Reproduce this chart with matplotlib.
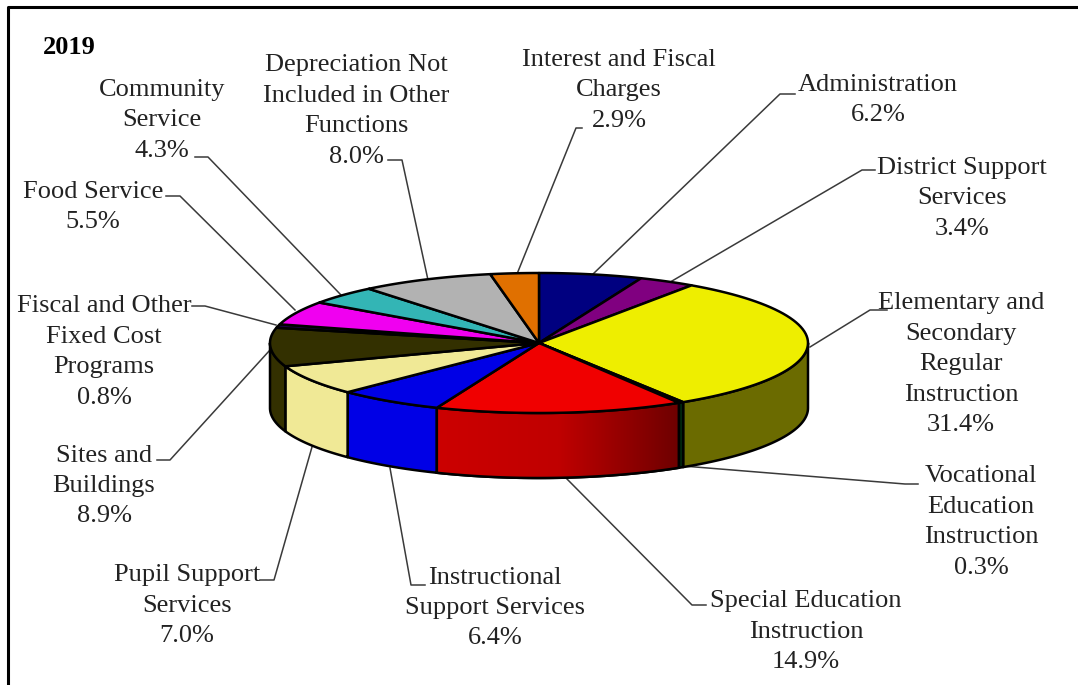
import numpy as np
import matplotlib
matplotlib.use('Agg')
import matplotlib.pyplot as plt
from matplotlib.patches import Polygon

plt.rcParams['font.family'] = ['Liberation Serif', 'DejaVu Serif']

names = ['Administration', 'District Support\nServices',
         'Elementary and\nSecondary\nRegular\nInstruction',
         'Vocational\nEducation\nInstruction',
         'Special Education\nInstruction', 'Instructional\nSupport Services',
         'Pupil Support\nServices', 'Sites and\nBuildings',
         'Fiscal and Other\nFixed Cost\nPrograms', 'Food Service',
         'Community\nService', 'Depreciation Not\nIncluded in Other\nFunctions',
         'Interest and Fiscal\nCharges']
shares = [6.2, 3.4, 31.4, 0.3, 14.9, 6.4, 7.0, 8.9, 0.8, 5.5, 4.3, 8.0, 2.9]
top_colors = ['#000080', '#800080', '#eeee00', '#003300', '#f00000', '#0000e6',
              '#f0e996', '#333000', '#1c0048', '#f000f0', '#33b5b5', '#b2b2b2',
              '#e07000']
wall_colors = ['#000050', '#500050', '#6b6b00', '#002a10', '#b00000', '#0000e6',
               '#f0e996', '#333000', '#220044', '#900090', '#207070', '#707070',
               '#8a4500']

# label centre, then the leader line from the pie out to the label
label_xy = [(878, 100), (962, 198), (961, 364), (981, 522), (806, 632), (495, 608),
            (187, 606), (104, 486), (104, 352), (93, 207), (162, 120), (356, 111),
            (619, 90)]
leaders = [[(592, 275), (780, 94), (795, 94)],
           [(672, 281), (862, 170), (875, 170)],
           [(810, 347), (870, 310), (887, 310)],
           [(683, 466), (905, 484), (918, 484)],
           [(565, 477), (692, 605), (706, 605)],
           [(390, 468), (411, 585), (425, 585)],
           [(312, 447), (274, 580), (260, 580)],
           [(270, 350), (170, 460), (157, 460)],
           [(276, 325), (205, 306), (192, 306)],
           [(295, 310), (180, 196), (166, 196)],
           [(341, 295), (208, 157), (195, 157)],
           [(428, 280), (402, 160), (388, 160)],
           [(517, 274), (576, 128), (582, 128)]]

cx, cy = 539, 343
rx, ry = 269, 70
depth = 65


def rim(t):
    # t is clockwise from 12 o'clock, in degrees
    r = np.radians(t)
    return np.column_stack([cx + rx * np.sin(r), cy - ry * np.cos(r)])


fig = plt.figure(figsize=(10.78, 6.85), dpi=100)
ax = fig.add_axes([0, 0, 1, 1])
ax.set_xlim(0, 1078)
ax.set_ylim(685, 0)
ax.axis('off')

# frame
ax.plot([8, 8, 1078], [685, 6.5, 6.5], color='black', lw=2.2, solid_capstyle='butt', zorder=1)

for line in leaders:
    xs, ys = zip(*line)
    ax.plot(xs, ys, color='#3a3a3a', lw=1.1, zorder=2)

edges = np.concatenate([[0], np.cumsum(shares)]) * 3.6
edges = edges / edges[-1] * 360

# walls, only the front half of the rim shows
for i in range(len(shares)):
    a, b = max(edges[i], 90), min(edges[i + 1], 270)
    if b <= a:
        continue
    upper = rim(np.linspace(a, b, 60))
    lower = upper + [0, depth]
    wall = Polygon(np.vstack([upper, lower[::-1]]), closed=True, facecolor=wall_colors[i],
                   edgecolor='black', lw=1.8, joinstyle='round', zorder=3)
    ax.add_patch(wall)
    if i == 4:
        # the red wall darkens to the right
        grad = np.linspace(0, 1, 256)[None, :]
        cmap = matplotlib.colors.LinearSegmentedColormap.from_list(
            'redwall', ['#cc0000', '#c00000', '#6e0000'])
        xs = upper[:, 0]
        im = ax.imshow(grad, cmap=cmap, extent=[xs.min(), xs.max(), 500, 380],
                       aspect='auto', zorder=3.1)
        im.set_clip_path(wall)
        ax.add_patch(Polygon(np.vstack([upper, lower[::-1]]), closed=True, fill=False,
                             edgecolor='black', lw=1.8, zorder=3.2))

ax.set_xlim(0, 1078)
ax.set_ylim(685, 0)

# top face
for i in range(len(shares)):
    arc = rim(np.linspace(edges[i], edges[i + 1], 60))
    pts = np.vstack([[cx, cy], arc])
    ax.add_patch(Polygon(pts, closed=True, facecolor=top_colors[i], edgecolor='black',
                         lw=1.8, joinstyle='round', zorder=4))

for i in range(len(shares)):
    text = '%s\n%.1f%%' % (names[i], shares[i])
    ax.text(label_xy[i][0], label_xy[i][1], text, ha='center', va='center', fontsize=19,
            linespacing=1.5, color='#222222', zorder=5)

ax.text(43, 47, '2019', fontsize=19, fontweight='bold', ha='left', va='center', color='black')

fig.savefig('out.png', dpi=100)
